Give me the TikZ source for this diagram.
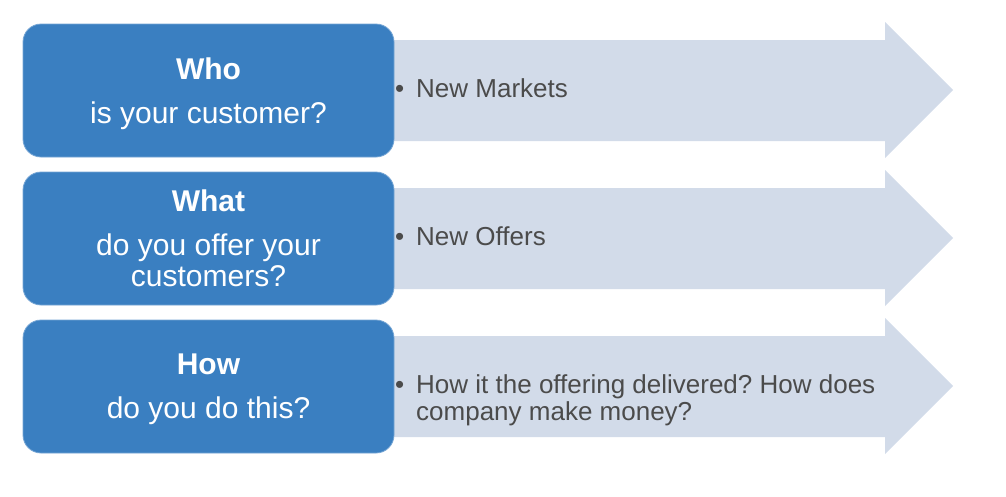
\documentclass[tikz,border=0pt]{standalone}
\usepackage{fontspec}
\setmainfont{Liberation Sans}
\usetikzlibrary{positioning}
\definecolor{boxblue}{HTML}{3A7FC1}
\definecolor{arrowgray}{HTML}{D2DBE9}
\definecolor{textgray}{HTML}{4B4B4B}
\def\rowarrow(#1){\fill[arrowgray] (380, 40+#1) -- (885, 40+#1) -- (885, 22+#1) -- (953, 90+#1) -- (885, 158+#1) -- (885, 141+#1) -- (380, 141+#1) -- cycle;}
\tikzset{
	askbox/.style={rectangle, rounded corners=18pt, fill=boxblue, draw=boxblue!70!white, line width=0.8pt,
		minimum width=371pt, minimum height=133pt, inner sep=0pt, text=white, align=center,
		font=\fontsize{30}{31}\selectfont},
	pointtext/.style={anchor=north west, inner sep=0pt, text=textgray, align=left,
		font=\fontsize{26}{27}\selectfont}
}
\newcommand{\pt}{\llap{\textbullet\hspace{12pt}}}
\frenchspacing
\begin{document}
\begin{tikzpicture}[x=1pt, y=-1pt]
			%%%%% START %%%%%
			
			\useasboundingbox (0, 0) rectangle (1006, 496);
			
			\rowarrow(0)
			\rowarrow(148)
			\rowarrow(296)
			
			\node[askbox, text depth=-2pt] (whobox) at (208.5, 90.5) {{\bfseries Who}\\[13pt]is your customer?};
			\node[askbox] (whatbox) at (208.5, 238.5) {{\bfseries What}\\[13pt]do you offer your\\customers?};
			\node[askbox, text depth=-2pt] (howbox) at (208.5, 386.5) {{\bfseries How}\\[13pt]do you do this?};
			
			\node[pointtext] (whotext) at (416, 78) {\pt New Markets};
			\node[pointtext] (whattext) at (416, 226) {\pt New Offers};
			\node[pointtext] (howtext) at (416, 374) {\pt How it the offering delivered? How does\\company make money?};
			
			%%%%% END %%%%%
\end{tikzpicture}
\end{document}
